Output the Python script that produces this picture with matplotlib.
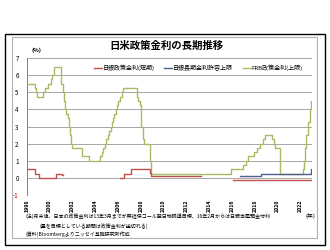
import matplotlib
matplotlib.use("Agg")
import matplotlib.pyplot as plt
import numpy as np
from matplotlib.patches import Rectangle

plt.rcParams['font.family'] = ['Noto Sans CJK JP', 'DejaVu Sans']

# ---- data (change points: (year, month), value) ----
ffr_dates = [(1998, 1), (1998, 9), (1998, 10), (1998, 11), (1999, 6), (1999, 8), (1999, 11),
             (2000, 2), (2000, 3), (2000, 5), (2001, 1), (2001, 3), (2001, 4), (2001, 5),
             (2001, 6), (2001, 8), (2001, 9), (2001, 10), (2001, 11), (2001, 12), (2002, 11),
             (2003, 6), (2004, 6), (2004, 8), (2004, 9), (2004, 11), (2004, 12), (2005, 2),
             (2005, 3), (2005, 5), (2005, 6), (2005, 8), (2005, 9), (2005, 11), (2005, 12),
             (2006, 1), (2006, 3), (2006, 5), (2006, 6), (2007, 9), (2007, 10), (2007, 12),
             (2008, 1), (2008, 3), (2008, 4), (2008, 10), (2008, 12), (2015, 12), (2016, 12),
             (2017, 3), (2017, 6), (2017, 12), (2018, 3), (2018, 6), (2018, 9), (2018, 12),
             (2019, 7), (2019, 9), (2019, 10), (2020, 3), (2022, 3), (2022, 5), (2022, 6),
             (2022, 7), (2022, 9), (2022, 11), (2022, 12)]
ffr_values = [5.5, 5.25, 5.0, 4.75, 5.0, 5.25, 5.5,
              5.75, 6.0, 6.5, 5.5, 5.0, 4.5, 4.0,
              3.75, 3.5, 3.0, 2.5, 2.0, 1.75, 1.25,
              1.0, 1.25, 1.5, 1.75, 2.0, 2.25, 2.5,
              2.75, 3.0, 3.25, 3.5, 3.75, 4.0, 4.25,
              4.5, 4.75, 5.0, 5.25, 4.75, 4.5, 4.25,
              3.0, 2.25, 2.0, 1.0, 0.25, 0.5, 0.75,
              1.0, 1.25, 1.5, 1.75, 2.0, 2.25, 2.5,
              2.25, 2.0, 1.75, 0.25, 0.5, 1.0, 1.75,
              2.5, 3.25, 4.0, 4.5]

# BOJ short-term policy rate (None = no rate target, line breaks)
boj_dates = [(1998, 1), (1998, 9), (1999, 2), (2000, 8), (2001, 2), (2001, 3),
             (2006, 3), (2006, 7), (2007, 2), (2008, 10), (2008, 12), (2013, 4),
             (2016, 2)]
boj_values = [0.5, 0.25, 0.0, 0.25, 0.15, None,
              0.0, 0.25, 0.5, 0.3, 0.1, None,
              -0.1]

# BOJ long-term rate tolerance upper limit
jgb_dates = [(2016, 9), (2018, 7), (2021, 3), (2022, 12)]
jgb_values = [0.1, 0.2, 0.25, 0.5]

end_date = (2023, 1)
year_ticks = list(range(1998, 2023, 2))
y_ticks = [-1, 0, 1, 2, 3, 4, 5, 6, 7]

title = "日米政策金利の長期推移"
legend_labels = ["日銀政策金利(短期)", "日銀長期金利許容上限", "FRB政策金利(上限)"]
notes = ["(注)月末値、日本の政策金利は13年3月までが無担保コール翌日物誘導目標、16年2月からは日銀当座預金付利",
         "(量を目標としている期間は政策金利が途切れる)",
         "(資料)Bloombergよりニッセイ基礎研究所作成"]


def to_x(d):
    return d[0] + (d[1] - 1) / 12.0


def step_series(dates, values):
    xs = [to_x(d) for d in dates] + [to_x(end_date)]
    vs = [np.nan if v is None else v for v in values]
    vs = vs + [vs[-1]]
    return np.array(xs), np.array(vs, dtype=float)


C_RED = "#c0504d"
C_BLUE = "#4f5f8f"
C_GREEN = "#a4bd62"
C_GRID = "#a6a6a6"

fig = plt.figure(figsize=(3.3, 2.5), dpi=100)
W, H = 330, 250

# frames
fig.patches.append(Rectangle((5 / W, 1 - 245 / H), 320 / W, 211 / H, transform=fig.transFigure,
                             fill=False, edgecolor="black", linewidth=1.0))
fig.patches.append(Rectangle((12 / W, 1 - 238 / H), 305 / W, 201 / H, transform=fig.transFigure,
                             fill=False, edgecolor="#b0b0b0", linewidth=0.8))

ax_l, ax_r, ax_t, ax_b = 27, 312, 58, 195
ax = fig.add_axes([ax_l / W, 1 - ax_b / H, (ax_r - ax_l) / W, (ax_b - ax_t) / H])

for y in y_ticks:
    ax.axhline(y, color=C_GRID, lw=0.7, zorder=1)

x, v = step_series(ffr_dates, ffr_values)
ax.plot(x, v, drawstyle="steps-post", color=C_GREEN, lw=1.0, zorder=3, label=legend_labels[2])
x, v = step_series(boj_dates, boj_values)
ax.plot(x, v, drawstyle="steps-post", color=C_RED, lw=1.0, zorder=4, label=legend_labels[0])
x, v = step_series(jgb_dates, jgb_values)
ax.plot(x, v, drawstyle="steps-post", color=C_BLUE, lw=1.0, zorder=5, label=legend_labels[1])

ax.set_xlim(1998, to_x(end_date))
ax.set_ylim(-1, 7)
for s in ["top", "right", "bottom"]:
    ax.spines[s].set_visible(False)
ax.spines["left"].set_color("#808080")
ax.spines["left"].set_linewidth(0.7)
ax.set_yticks(y_ticks)
ax.set_yticklabels([str(t) for t in y_ticks], fontsize=4.5)
for lab, t in zip(ax.get_yticklabels(), y_ticks):
    if t < 0:
        lab.set_color("#d00000")
ax.tick_params(axis="y", length=0, pad=6)
ax.set_xticks(year_ticks)
ax.set_xticklabels([str(t) for t in year_ticks], rotation=90, fontsize=3.8, fontweight="bold")
ax.tick_params(axis="x", length=0, pad=3)

handles, labels = ax.get_legend_handles_labels()
order = [1, 2, 0]
leg = ax.legend([handles[i] for i in order], [labels[i] for i in order], ncol=3,
                loc="upper right", bbox_to_anchor=(0.985, 0.985), fontsize=4.3, frameon=True,
                handlelength=1.3, handletextpad=0.2, columnspacing=1.6, borderpad=0.3)
leg.get_frame().set_facecolor("white")
leg.get_frame().set_edgecolor("white")
leg.get_frame().set_alpha(1.0)

fig.text(166 / W, 1 - 46 / H, title, ha="center", va="center", fontsize=7.5, fontweight="bold")
fig.text(32 / W, 1 - 50 / H, "(%)", ha="left", va="center", fontsize=4.2, fontweight="bold")
fig.text(25 / W, 1 - 216 / H, notes[0], ha="left", va="center", fontsize=3.6)
fig.text(40 / W, 1 - 226 / H, notes[1], ha="left", va="center", fontsize=3.6)
fig.text(25 / W, 1 - 234 / H, notes[2], ha="left", va="center", fontsize=3.6)
fig.text(310 / W, 1 - 216 / H, "(年)", ha="center", va="center", fontsize=4.2)

fig.savefig("out.png", dpi=100)
